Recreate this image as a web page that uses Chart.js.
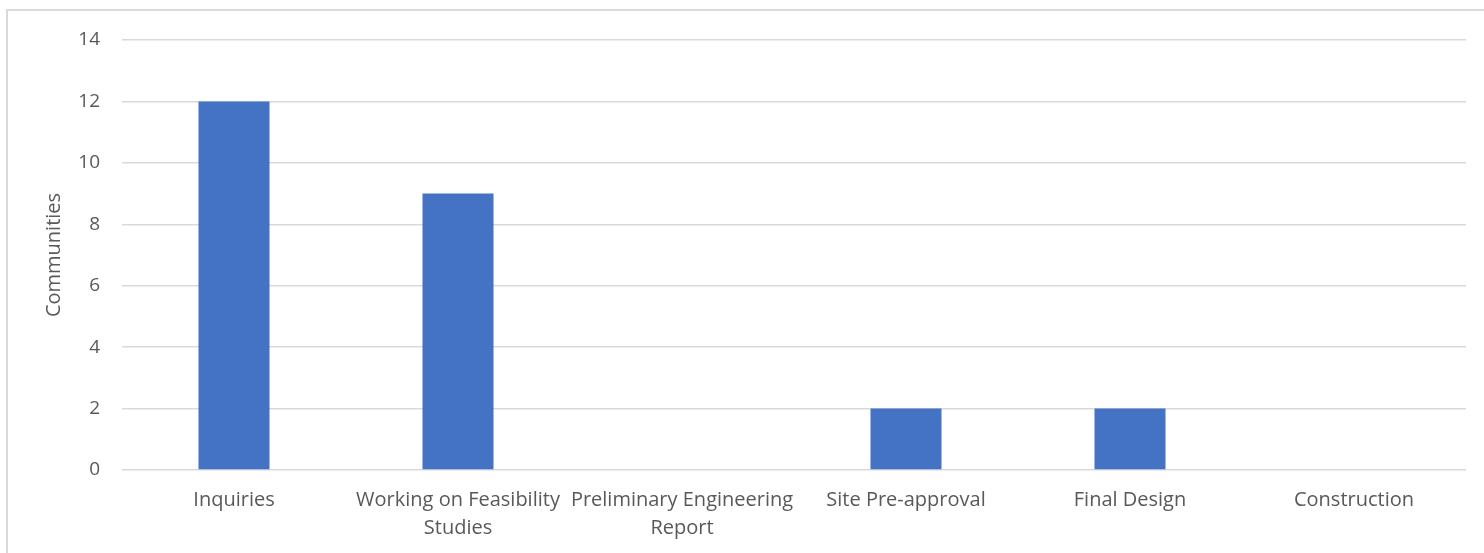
<!DOCTYPE html>
<html>
<head>
<meta charset="utf-8">
<title>Communities by stage</title>
<script src="https://cdn.jsdelivr.net/npm/chart.js@4.4.1/dist/chart.umd.min.js"></script>
<style>
  html, body { margin: 0; padding: 0; background: #fff; overflow: hidden; }
  #frame {
    position: absolute; left: 6px; top: 9px;
    width: 1500px; height: 560px;
    border: 2px solid #d9d9d9;
  }
  #wrap { position: absolute; left: 0; top: 0; width: 1484px; height: 553px; }
</style>
</head>
<body>
<div id="frame"></div>
<div id="wrap"><canvas id="chart"></canvas></div>
<script>
// Chart data
const stages = [
  'Inquiries',
  ['Working on Feasibility', 'Studies'],
  ['Preliminary Engineering', 'Report'],
  'Site Pre-approval',
  'Final Design',
  'Construction'
];
const communities = [12, 9, 0, 2, 2, 0];
const yTicks = [0, 2, 4, 6, 8, 10, 12, 14];

const FONT = "'Open Sans', 'Liberation Sans', sans-serif";
const textColor = '#595959';
const gridColor = '#d9d9d9';

const ctx = document.getElementById('chart').getContext('2d');

new Chart(ctx, {
  type: 'bar',
  data: {
    labels: stages,
    datasets: [{
      label: 'Communities',
      data: communities,
      backgroundColor: '#4472c4',
      borderWidth: 0,
      barPercentage: 0.317,
      categoryPercentage: 1.0
    }]
  },
  options: {
    responsive: true,
    maintainAspectRatio: false,
    animation: false,
    layout: { padding: { left: 0, right: 18, top: 40, bottom: 0 } },
    plugins: {
      legend: { display: false },
      tooltip: { enabled: false }
    },
    scales: {
      x: {
        grid: { display: false, drawTicks: false },
        border: { display: false },
        ticks: {
          color: textColor,
          font: { family: FONT, size: 20, lineHeight: 1.4 },
          padding: 16,
          maxRotation: 0,
          autoSkip: false
        },
        afterFit: function(scale) { scale.height = 83; }
      },
      y: {
        min: 0,
        max: 14,
        afterBuildTicks: function(scale) {
          scale.ticks = yTicks.map(v => ({ value: v }));
        },
        grid: { color: gridColor, lineWidth: 1.5, drawTicks: false },
        border: { display: false },
        ticks: {
          color: textColor,
          font: { family: FONT, size: 19 },
          padding: 22
        },
        title: {
          display: true,
          text: 'Communities',
          color: textColor,
          font: { family: FONT, size: 20 },
          padding: { top: 42, bottom: 0 }
        },
        afterFit: function(scale) { scale.width = 122; }
      }
    }
  }
});
</script>
</body>
</html>
